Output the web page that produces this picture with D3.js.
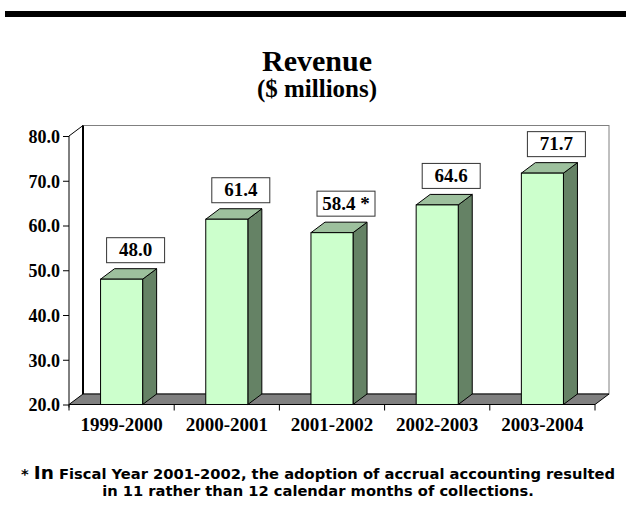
<!DOCTYPE html>
<html>
<head>
<meta charset="utf-8">
<script src="https://cdn.jsdelivr.net/npm/d3@7/dist/d3.min.js"></script>
<style>
  html, body { margin: 0; padding: 0; background: #ffffff; }
  svg { display: block; }
</style>
</head>
<body>
<svg id="chart" width="626" height="518"></svg>
<script>
// ---- data ----
const categories = ["1999-2000", "2000-2001", "2001-2002", "2002-2003", "2003-2004"];
const revenue = [48.0, 61.4, 58.4, 64.6, 71.7];
const valueLabels = ["48.0", "61.4", "58.4 *", "64.6", "71.7"];
const yTicks = [20, 30, 40, 50, 60, 70, 80];
const yDomain = [20, 80];
const titleText = "Revenue";
const subtitleText = "($ millions)";
const footLine1Star = "* ";
const footLine1Big = "In";
const footLine1Rest = " Fiscal Year 2001-2002, the adoption of accrual accounting resulted";
const footLine2 = "in 11 rather than 12 calendar months of collections.";

// ---- layout ----
const svg = d3.select("#chart");
const x0 = 69, x1 = 595, yBottom = 404.5, yTop = 136;
const DX = 14, DY = -10.5;

const x = d3.scaleBand().domain(categories).range([x0, x1]).paddingInner(0).paddingOuter(0);
const y = d3.scaleLinear().domain(yDomain).range([yBottom, yTop]);

// top rule
svg.append("rect").attr("x", 5).attr("y", 11).attr("width", 621).attr("height", 6).attr("fill", "#000");

// titles
svg.append("text").attr("x", 317).attr("y", 70.5).attr("text-anchor", "middle")
  .attr("font-family", "'Liberation Serif', 'Times New Roman', serif").attr("font-weight", "bold")
  .attr("font-size", 30).text(titleText);
svg.append("text").attr("x", 317).attr("y", 97).attr("text-anchor", "middle")
  .attr("font-family", "'Liberation Serif', 'Times New Roman', serif").attr("font-weight", "bold")
  .attr("font-size", 25).text(subtitleText);

const g = svg.append("g");

// back wall
const bwL = x0 + DX, bwR = x1 + DX, bwT = yTop + DY, bwB = yBottom + DY;
g.append("rect").attr("x", bwL).attr("y", bwT).attr("width", bwR - bwL).attr("height", bwB - bwT)
  .attr("fill", "#fff").attr("stroke", "#808080").attr("stroke-width", 1);
g.append("line").attr("x1", bwL).attr("x2", bwL).attr("y1", bwT).attr("y2", bwB)
  .attr("stroke", "#000").attr("stroke-width", 2);
// left top diagonal
g.append("line").attr("x1", x0).attr("y1", yTop).attr("x2", bwL).attr("y2", bwT)
  .attr("stroke", "#000").attr("stroke-width", 1);

// floor
g.append("path")
  .attr("d", `M${x0},${yBottom} L${x1},${yBottom} L${x1 + DX},${yBottom + DY} L${x0 + DX},${yBottom + DY} Z`)
  .attr("fill", "#808080").attr("stroke", "#000").attr("stroke-width", 1);

// bars
const bw = x.bandwidth() * 0.4;
const bars = g.selectAll("g.bar").data(revenue).enter().append("g").attr("class", "bar");
bars.each(function(d, i) {
  const sel = d3.select(this);
  const left = x(categories[i]) + (x.bandwidth() - bw) / 2;
  const right = left + bw;
  const top = y(d), bot = y(yDomain[0]);
  sel.append("path")
    .attr("d", `M${right},${bot} L${right + DX},${bot + DY} L${right + DX},${top + DY} L${right},${top} Z`)
    .attr("fill", "#658265").attr("stroke", "#000").attr("stroke-width", 1).attr("stroke-linejoin", "round");
  sel.append("path")
    .attr("d", `M${left},${top} L${left + DX},${top + DY} L${right + DX},${top + DY} L${right},${top} Z`)
    .attr("fill", "#9dc09d").attr("stroke", "#000").attr("stroke-width", 1).attr("stroke-linejoin", "round");
  sel.append("rect").attr("x", left).attr("y", top).attr("width", bw).attr("height", bot - top)
    .attr("fill", "#ccffcc").attr("stroke", "#000").attr("stroke-width", 1);
});

// front y axis line
g.append("line").attr("x1", x0).attr("x2", x0).attr("y1", yTop).attr("y2", yBottom + 3)
  .attr("stroke", "#000").attr("stroke-width", 1);

// y ticks
const yAxis = d3.axisLeft(y).tickValues(yTicks).tickSize(6).tickPadding(3).tickFormat(d3.format(".1f"));
const ya = svg.append("g").attr("transform", `translate(${x0},0)`).call(yAxis);
ya.select(".domain").remove();
ya.selectAll("line").attr("stroke", "#000");
ya.selectAll("text").attr("font-family", "'Liberation Serif', 'Times New Roman', serif")
  .attr("font-weight", "bold").attr("font-size", 18).attr("fill", "#000").attr("dy", "0.35em");

// x ticks at band boundaries
const bounds = categories.map(c => x(c)).concat([x1]);
svg.selectAll("line.xt").data(bounds).enter().append("line").attr("class", "xt")
  .attr("x1", d => d).attr("x2", d => d).attr("y1", yBottom).attr("y2", yBottom + 6)
  .attr("stroke", "#000").attr("stroke-width", 1);
svg.append("line").attr("x1", x0).attr("x2", x1).attr("y1", yBottom).attr("y2", yBottom)
  .attr("stroke", "#000").attr("stroke-width", 1);

// x labels
svg.selectAll("text.xl").data(categories).enter().append("text").attr("class", "xl")
  .attr("x", d => x(d) + x.bandwidth() / 2).attr("y", 431).attr("text-anchor", "middle")
  .attr("font-family", "'Liberation Serif', 'Times New Roman', serif").attr("font-weight", "bold")
  .attr("font-size", 19).text(d => d);

// value boxes
const boxW = 58, boxH = 25;
const vb = svg.selectAll("g.vb").data(revenue).enter().append("g").attr("class", "vb");
vb.each(function(d, i) {
  const sel = d3.select(this);
  const cx = x(categories[i]) + x.bandwidth() / 2 + 14;
  const bottom = y(d) + DY - 6;
  sel.append("rect").attr("x", cx - boxW / 2).attr("y", bottom - boxH).attr("width", boxW).attr("height", boxH)
    .attr("fill", "#fff").attr("stroke", "#333").attr("stroke-width", 1);
  sel.append("text").attr("x", cx).attr("y", bottom - 6.5).attr("text-anchor", "middle")
    .attr("font-family", "'Liberation Serif', 'Times New Roman', serif").attr("font-weight", "bold")
    .attr("font-size", 19).text(valueLabels[i]);
});

// footnote
const ft1 = svg.append("text").attr("x", 318).attr("y", 479).attr("text-anchor", "middle")
  .attr("font-family", "'DejaVu Sans', Verdana, sans-serif").attr("font-weight", "bold").attr("font-size", 14.7);
ft1.append("tspan").text(footLine1Star);
ft1.append("tspan").attr("font-size", 18.5).text(footLine1Big);
ft1.append("tspan").text(footLine1Rest);
svg.append("text").attr("x", 318).attr("y", 496).attr("text-anchor", "middle")
  .attr("font-family", "'DejaVu Sans', Verdana, sans-serif").attr("font-weight", "bold").attr("font-size", 14.7)
  .text(footLine2);
</script>
</body>
</html>
